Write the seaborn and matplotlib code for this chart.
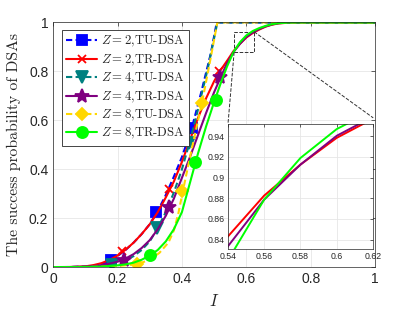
import matplotlib
matplotlib.use('Agg')
import matplotlib.pyplot as plt
from matplotlib.lines import Line2D
from matplotlib.patches import Rectangle
from matplotlib.ticker import FuncFormatter
import seaborn as sns

sns.set_style('white')
plt.rcParams['mathtext.fontset'] = 'cm'
plt.rcParams['font.family'] = ['Liberation Sans', 'DejaVu Sans']
plt.rcParams['axes.unicode_minus'] = False

# ---- curve data ----
# Z=2, TU-DSA (dashed blue)
z2_tu_x = [0, 0.05, 0.10, 0.125, 0.15, 0.18, 0.20, 0.225, 0.25, 0.275, 0.30, 0.325, 0.35, 0.375, 0.40, 0.43, 0.46, 0.49, 0.508, 0.55, 1.0]
z2_tu_y = [0, 0.0002, 0.002, 0.005, 0.011, 0.03, 0.045, 0.07, 0.10, 0.135, 0.175, 0.23, 0.295, 0.37, 0.45, 0.565, 0.715, 0.875, 1.0, 1.0, 1.0]
# Z=2, TR-DSA (solid red)
z2_tr_x = [0, 0.05, 0.10, 0.125, 0.15, 0.175, 0.20, 0.225, 0.25, 0.275, 0.30, 0.325, 0.35, 0.375, 0.40, 0.425, 0.45, 0.475, 0.50, 0.52, 0.54, 0.56, 0.58, 0.60, 0.62, 0.64, 0.66, 0.68, 0.70, 0.73, 0.76, 1.0]
z2_tr_y = [0, 0.0003, 0.003, 0.008, 0.016, 0.029, 0.047, 0.071, 0.10, 0.135, 0.175, 0.225, 0.285, 0.35, 0.43, 0.52, 0.61, 0.69, 0.76, 0.805, 0.843, 0.8826, 0.9126, 0.9385, 0.957, 0.971, 0.983, 0.991, 0.996, 0.999, 1.0, 1.0]
# Z=4, TU-DSA (dashed teal)
z4_tu_x = [0, 0.05, 0.10, 0.15, 0.184, 0.20, 0.225, 0.25, 0.275, 0.30, 0.324, 0.35, 0.375, 0.40, 0.423, 0.45, 0.48, 0.51, 0.55, 1.0]
z4_tu_y = [0, 0.0001, 0.001, 0.004, 0.01, 0.015, 0.027, 0.045, 0.07, 0.105, 0.158, 0.225, 0.305, 0.40, 0.506, 0.645, 0.81, 1.0, 1.0, 1.0]
# Z=4, TR-DSA (solid purple)
z4_tr_x = [0, 0.05, 0.10, 0.125, 0.15, 0.175, 0.20, 0.225, 0.25, 0.275, 0.30, 0.325, 0.35, 0.375, 0.40, 0.425, 0.45, 0.475, 0.50, 0.52, 0.54, 0.56, 0.58, 0.60, 0.62, 0.64, 0.66, 0.68, 0.70, 0.73, 0.76, 1.0]
z4_tr_y = [0, 0.0002, 0.0015, 0.004, 0.008, 0.014, 0.022, 0.035, 0.053, 0.078, 0.11, 0.155, 0.21, 0.28, 0.365, 0.45, 0.54, 0.63, 0.715, 0.775, 0.8335, 0.8787, 0.9126, 0.9405, 0.959, 0.973, 0.984, 0.992, 0.997, 0.9995, 1.0, 1.0]
# Z=8, TU-DSA (dashed gold)
z8_tu_x = [0, 0.05, 0.10, 0.15, 0.20, 0.262, 0.30, 0.33, 0.358, 0.375, 0.389, 0.403, 0.43, 0.462, 0.49, 0.51, 0.55, 1.0]
z8_tu_y = [0, 0.00005, 0.0003, 0.0015, 0.004, 0.012, 0.03, 0.058, 0.10, 0.15, 0.22, 0.312, 0.48, 0.67, 0.86, 1.0, 1.0, 1.0]
# Z=8, TR-DSA (solid green)
z8_tr_x = [0, 0.05, 0.10, 0.15, 0.20, 0.225, 0.25, 0.275, 0.30, 0.325, 0.35, 0.375, 0.40, 0.425, 0.45, 0.475, 0.50, 0.52, 0.54, 0.56, 0.58, 0.60, 0.62, 0.64, 0.66, 0.68, 0.70, 0.73, 0.76, 1.0]
z8_tr_y = [0, 0.00005, 0.0005, 0.002, 0.007, 0.011, 0.018, 0.03, 0.047, 0.07, 0.105, 0.155, 0.225, 0.345, 0.465, 0.575, 0.675, 0.75, 0.82, 0.8787, 0.919, 0.947, 0.965, 0.977, 0.986, 0.993, 0.997, 0.9995, 1.0, 1.0]

# marker positions (simulation points)
z2_tu_mx = [0.18, 0.32, 0.43]
z2_tu_my = [0.03, 0.226, 0.567]
z2_tr_mx = [0.215, 0.36, 0.515]
z2_tr_my = [0.067, 0.32, 0.80]
z4_tu_mx = [0.184, 0.324, 0.423]
z4_tu_my = [0.008, 0.158, 0.506]
z4_tr_mx = [0.22, 0.361, 0.519]
z4_tr_my = [0.029, 0.244, 0.778]
z8_tu_mx = [0.262, 0.40, 0.462]
z8_tu_my = [0.012, 0.312, 0.67]
z8_tr_mx = [0.301, 0.441, 0.505]
z8_tr_my = [0.049, 0.431, 0.683]

labels = [r'$Z=2$,TU-DSA', r'$Z=2$,TR-DSA', r'$Z=4$,TU-DSA',
          r'$Z=4$,TR-DSA', r'$Z=8$,TU-DSA', r'$Z=8$,TR-DSA']
ticks = [0, 0.2, 0.4, 0.6, 0.8, 1]
inset_xticks = [0.54, 0.56, 0.58, 0.6, 0.62]
inset_yticks = [0.84, 0.86, 0.88, 0.9, 0.92, 0.94]

# zoom box drawn on the main axes
zoom_box = (0.562, 0.878, 0.624, 0.962)

dash = (0, (3, 1.6))
series = [
    (z2_tu_x, z2_tu_y, z2_tu_mx, z2_tu_my, '#0000ff', dash, 's', 7),
    (z2_tr_x, z2_tr_y, z2_tr_mx, z2_tr_my, '#ff0000', '-', 'x', 6),
    (z4_tu_x, z4_tu_y, z4_tu_mx, z4_tu_my, '#008080', dash, 'v', 8),
    (z4_tr_x, z4_tr_y, z4_tr_mx, z4_tr_my, '#800080', '-', '*', 10),
    (z8_tu_x, z8_tu_y, z8_tu_mx, z8_tu_my, '#ffd700', dash, 'D', 6.5),
    (z8_tr_x, z8_tr_y, z8_tr_mx, z8_tr_my, '#00ff00', '-', 'o', 8),
]

fig = plt.figure(figsize=(4.15, 3.12), dpi=100)
ax = fig.add_axes([0.128, 0.144, 0.776, 0.784])

for x, y, mx, my, c, ls, m, ms in series:
    sns.lineplot(x=x, y=y, ax=ax, color=c, linestyle=ls, lw=1.5,
                 estimator=None, sort=False, legend=False)
    ax.plot(mx, my, ls='none', marker=m, ms=ms, color=c, mfc=c, mec=c, mew=1.3)

ax.set_xlim(0, 1)
ax.set_ylim(0, 1)
ax.set_xticks(ticks)
ax.set_yticks(ticks)
fmt = FuncFormatter(lambda v, p: f'{v:g}')
ax.xaxis.set_major_formatter(fmt)
ax.yaxis.set_major_formatter(fmt)
ax.tick_params(direction='in', length=3, width=0.5, top=True, right=True,
               labelsize=10, labelcolor='#262626', color='#262626')
ax.grid(True, color='#e6e6e6', lw=0.6)
ax.set_axisbelow(True)
for s in ax.spines.values():
    s.set_color('#262626')
    s.set_linewidth(0.5)
ax.set_xlabel('$I$', fontsize=12, labelpad=5)
ax.set_ylabel('The success probability of DSAs', family='cmr10', fontsize=11.3, labelpad=6)

# zoom box + guide lines to the inset
x0, y0, x1, y1 = zoom_box
ax.add_patch(Rectangle((x0, y0), x1 - x0, y1 - y0, fill=False, ls='--', lw=0.7, ec='#333333'))
ax.plot([x1, 0.994], [y1, 0.61], ls='--', lw=0.7, color='#333333')
ax.plot([x0, 0.543], [y0, 0.585], ls='--', lw=0.7, color='#333333')

handles = [Line2D([], [], color=c, ls=ls, lw=1.5, marker=m, ms=ms, mfc=c, mec=c, mew=1.3)
           for _, _, _, _, c, ls, m, ms in series]
leg = ax.legend(handles, labels, loc='upper left', bbox_to_anchor=(0.027, 0.97),
                borderaxespad=0, prop={'family': 'cmr10', 'size': 9.2}, frameon=True,
                fancybox=False, edgecolor='#262626', framealpha=1, labelspacing=0.25,
                handlelength=2.4, handletextpad=0.3, borderpad=0.35)
leg.get_frame().set_linewidth(0.6)

# inset
axins = fig.add_axes([0.549, 0.202, 0.350, 0.401])
for x, y, mx, my, c, ls, m, ms in series:
    if ls == '-':
        sns.lineplot(x=x, y=y, ax=axins, color=c, lw=1.4, estimator=None, sort=False, legend=False)
axins.set_xlim(0.54, 0.62)
axins.set_ylim(0.831, 0.952)
axins.set_xticks(inset_xticks)
axins.set_yticks(inset_yticks)
axins.xaxis.set_major_formatter(fmt)
axins.yaxis.set_major_formatter(fmt)
axins.tick_params(direction='in', length=2.5, width=0.5, top=True, right=True,
                  labelsize=6.3, labelcolor='#262626', color='#262626', pad=2)
axins.grid(True, color='#e6e6e6', lw=0.6)
axins.set_axisbelow(True)
axins.set_xlabel('')
axins.set_ylabel('')
for s in axins.spines.values():
    s.set_color('#262626')
    s.set_linewidth(0.5)

fig.savefig('out.png', dpi=100)
